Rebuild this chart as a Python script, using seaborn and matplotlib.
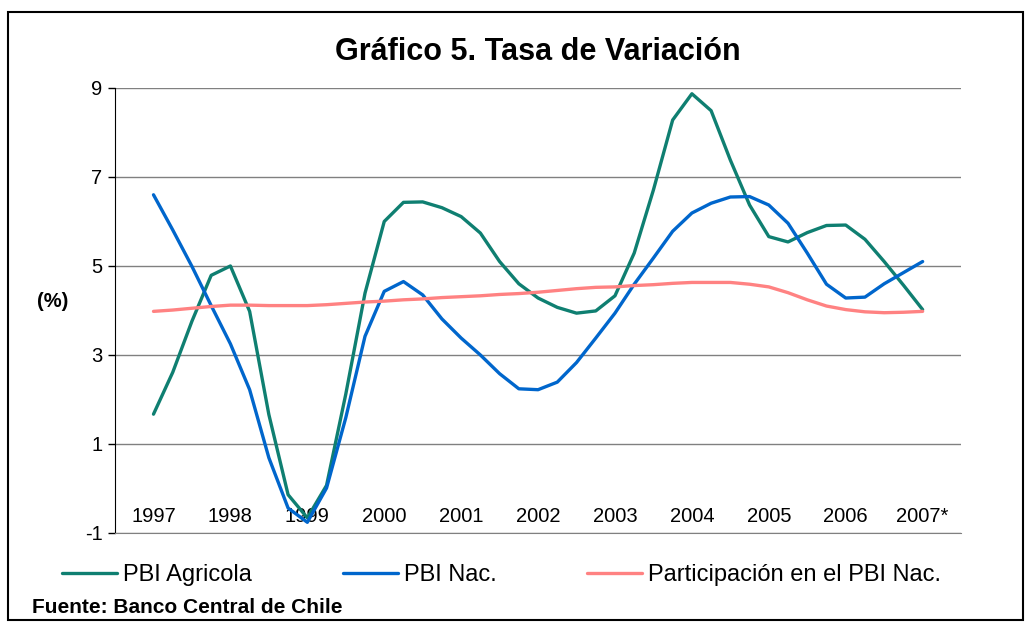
import numpy as np
import pandas as pd
import seaborn as sns
import matplotlib.pyplot as plt
from matplotlib.patches import Rectangle

# Years on the category axis
years = ['1997', '1998', '1999', '2000', '2001', '2002', '2003', '2004', '2005', '2006', '2007*']

# Values every quarter of a category step (0, 0.25, ... 10)
pos = np.arange(41) / 4

pbi_agricola = [1.67, 2.61, 3.76, 4.79, 5.00, 3.98, 1.66, -0.14, -0.66,
                0.07, 2.12, 4.39, 6.00, 6.43, 6.44, 6.31, 6.11, 5.74, 5.10, 4.60,
                4.28, 4.07, 3.94, 3.99, 4.33, 5.29, 6.71, 8.28, 8.87, 8.49, 7.38, 6.37,
                5.66, 5.54, 5.75, 5.91, 5.92, 5.60, 5.10, 4.57, 4.02]

pbi_nac = [6.60, 5.81, 4.99, 4.11, 3.25, 2.22, 0.69, -0.44, -0.76,
           0.01, 1.59, 3.42, 4.43, 4.65, 4.35, 3.81, 3.38, 3.00, 2.58, 2.24,
           2.22, 2.39, 2.83, 3.38, 3.94, 4.59, 5.18, 5.78, 6.19, 6.41, 6.55, 6.56,
           6.37, 5.96, 5.29, 4.59, 4.28, 4.30, 4.60, 4.85, 5.10]

participacion = [3.98, 4.01, 4.05, 4.09, 4.12, 4.12, 4.11, 4.11, 4.11,
                 4.13, 4.16, 4.19, 4.21, 4.24, 4.26, 4.29, 4.31, 4.33, 4.36, 4.38,
                 4.41, 4.45, 4.49, 4.52, 4.53, 4.56, 4.58, 4.61, 4.63, 4.63, 4.63, 4.59,
                 4.53, 4.40, 4.24, 4.10, 4.02, 3.97, 3.95, 3.96, 3.98]

series = ['PBI Agricola', 'PBI Nac.', 'Participación en el PBI Nac.']
colors = ['#0F7F71', '#0066CC', '#FF8282']

df = pd.concat([
    pd.DataFrame({'pos': pos, 'valor': pbi_agricola, 'serie': series[0]}),
    pd.DataFrame({'pos': pos, 'valor': pbi_nac, 'serie': series[1]}),
    pd.DataFrame({'pos': pos, 'valor': participacion, 'serie': series[2]}),
])

sns.set_style('white')
plt.rcParams['font.family'] = ['Liberation Sans', 'DejaVu Sans']
plt.rcParams['axes.unicode_minus'] = False
plt.rcParams['text.color'] = 'black'
plt.rcParams['xtick.color'] = 'black'
plt.rcParams['ytick.color'] = 'black'

fig = plt.figure(figsize=(10.29, 6.28), dpi=100)
ax = fig.add_axes([0.1118, 0.1513, 0.8222, 0.7086])

sns.lineplot(data=df, x='pos', y='valor', hue='serie', palette=colors,
             linewidth=2.4, sort=False, ax=ax, legend=True)

ax.set_xlim(-0.5, 10.5)
ax.set_ylim(-1, 9)
ax.set_yticks([-1, 1, 3, 5, 7, 9])
ax.set_xticks(range(len(years)))
ax.set_xticklabels(years)
ax.tick_params(axis='x', length=0, pad=-19, labelsize=14.5)
ax.tick_params(axis='y', length=5, width=1, labelsize=14.5, left=True, pad=4)
ax.yaxis.grid(True, color='#808080', linewidth=1)
ax.set_axisbelow(True)
for s in ['top', 'right']:
    ax.spines[s].set_visible(False)
ax.spines['left'].set_color('black')
ax.spines['bottom'].set_color('#808080')
ax.set_xlabel('')
ax.set_ylabel('')

fig.text(0.051, 0.52, '(%)', fontsize=14.5, fontweight='bold', ha='center', va='center')
fig.text(0.523, 0.917, 'Gráfico 5. Tasa de Variación', fontsize=22, fontweight='bold',
         ha='center', va='center')

handles, labels = ax.get_legend_handles_labels()
ax.get_legend().remove()
fig.legend(handles, labels, loc='center left', bbox_to_anchor=(0.0603, 0.0844), ncol=3,
           frameon=False, fontsize=17, handlelength=2.33, handletextpad=0.25,
           columnspacing=3.85, borderpad=0, borderaxespad=0)

fig.text(0.031, 0.0334, 'Fuente: Banco Central de Chile', fontsize=15, fontweight='bold',
         ha='left', va='center')

fig.patches.append(Rectangle((0.008, 0.013), 0.986, 0.968, transform=fig.transFigure,
                             fill=False, edgecolor='black', linewidth=1.5))

fig.savefig('out.png', dpi=100)
